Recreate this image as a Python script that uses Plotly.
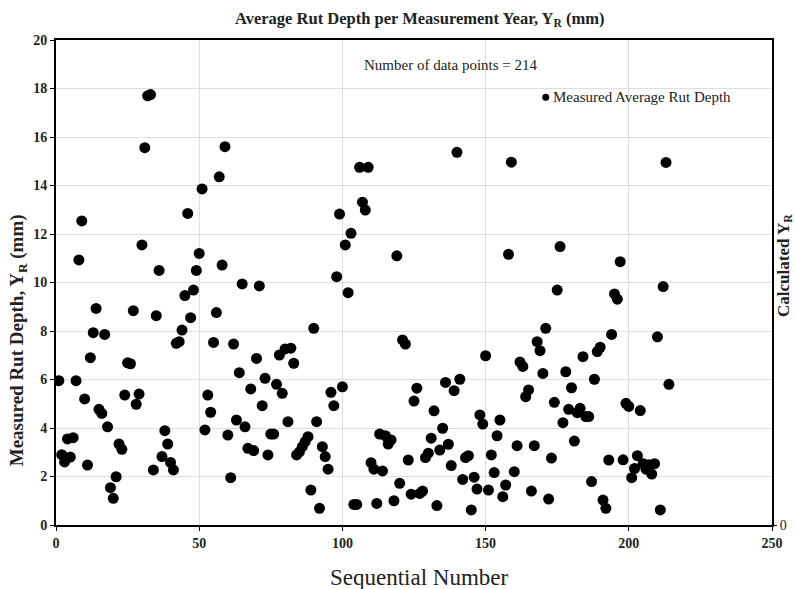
import plotly.graph_objects as go

seq_numbers = list(range(1, 215))
rut_depth = [
    5.95, 2.9, 2.6, 3.55, 2.8, 3.6, 5.95, 10.93, 12.54, 5.2,
    2.47, 6.9, 7.93, 8.93, 4.77, 4.6, 7.86, 4.05, 1.54, 1.1,
    1.99, 3.34, 3.12, 5.36, 6.69, 6.65, 8.84, 4.98, 5.4, 11.55,
    15.56, 17.7, 17.75, 2.27, 8.63, 10.5, 2.82, 3.89, 3.34, 2.58,
    2.27, 7.49, 7.56, 8.04, 9.46, 12.85, 8.55, 9.69, 10.5, 11.2,
    13.86, 3.92, 5.36, 4.65, 7.53, 8.76, 14.36, 10.72, 15.6, 3.71,
    1.95, 7.46, 4.33, 6.28, 9.94, 4.05, 3.16, 5.61, 3.07, 6.87,
    9.86, 4.92, 6.05, 2.89, 3.75, 3.75, 5.8, 7.01, 5.43, 7.26,
    4.26, 7.29, 6.67, 2.89, 3.02, 3.23, 3.44, 3.64, 1.44, 8.11,
    4.26, 0.69, 3.23, 2.82, 2.3, 5.47, 4.92, 10.24, 12.82, 5.7,
    11.55, 9.58, 12.03, 0.85, 0.85, 14.75, 13.31, 12.99, 14.75, 2.57,
    2.3, 0.89, 3.75, 2.23, 3.68, 3.34, 3.51, 1.0, 11.1, 1.72,
    7.63, 7.46, 2.68, 1.27, 5.11, 5.64, 1.3, 1.4, 2.78, 2.96,
    3.58, 4.71, 0.8, 3.09, 3.99, 5.88, 3.33, 2.45, 5.54, 15.37,
    6.01, 1.88, 2.78, 2.86, 0.62, 1.97, 1.48, 4.54, 4.16, 6.98,
    1.44, 2.89, 2.16, 3.68, 4.33, 1.17, 1.65, 11.16, 14.96, 2.2,
    3.27, 6.72, 6.54, 5.29, 5.57, 1.4, 3.27, 7.56, 7.19, 6.25,
    8.11, 1.07, 2.76, 5.06, 9.69, 11.48, 4.22, 6.32, 4.77, 5.66,
    3.46, 4.63, 4.81, 6.94, 4.47, 4.47, 1.79, 6.01, 7.15, 7.33,
    1.03, 0.69, 2.68, 7.86, 9.53, 9.31, 10.86, 2.69, 5.02, 4.89,
    1.95, 2.33, 2.86, 4.72, 2.53, 2.3, 2.48, 2.1, 2.53, 7.76,
    0.62, 9.83, 14.95, 5.8,
]
x_ticks = [0, 50, 100, 150, 200, 250]
y_ticks = [0, 2, 4, 6, 8, 10, 12, 14, 16, 18, 20]

SERIF = "Liberation Serif, Times New Roman, serif"
TXT = "#222"

fig = go.Figure()
fig.add_trace(go.Scatter(
    x=seq_numbers, y=rut_depth, mode="markers",
    marker=dict(color="black", size=11),
    name="Measured Average Rut Depth", showlegend=False,
))
# invisible trace for secondary (right) axis
fig.add_trace(go.Scatter(
    x=[None], y=[None], yaxis="y2", mode="markers", showlegend=False,
))

axis_common = dict(
    ticks="outside", ticklen=4, tickwidth=1, tickcolor="black",
    showline=True, linecolor="black", linewidth=2, mirror=True,
    showgrid=True, gridcolor="#dedede", gridwidth=1, zeroline=False,
    tickfont=dict(size=14, family=SERIF, color=TXT, weight="bold"),
    automargin=False,
)

fig.update_layout(
    width=795, height=589,
    margin=dict(l=56, r=23, t=40, b=64),
    paper_bgcolor="white", plot_bgcolor="white",
    font=dict(family=SERIF, color=TXT),
    title=dict(
        text="<b>Average Rut Depth per Measurement Year, Y<sub>R</sub> (mm)</b>",
        xref="container", yref="container",
        x=0.528, xanchor="center", y=0.969, yanchor="middle",
        font=dict(size=16.5, family=SERIF, color=TXT),
    ),
    xaxis=dict(range=[0, 250], tickvals=x_ticks, **axis_common),
    yaxis=dict(range=[0, 20], tickvals=y_ticks, **axis_common),
    yaxis2=dict(
        overlaying="y", side="right", range=[0, 20], tickvals=[0], ticktext=["0"],
        ticks="outside", ticklen=4, tickcolor="black",
        showgrid=False, zeroline=False, showline=False, automargin=False,
        tickfont=dict(size=14, family=SERIF, color=TXT),
    ),
    showlegend=False,
    shapes=[dict(
        type="circle", xref="paper", yref="paper",
        xsizemode="pixel", ysizemode="pixel",
        xanchor=0.684, yanchor=0.882,
        x0=-3.5, x1=3.5, y0=-3.5, y1=3.5,
        fillcolor="black", line=dict(width=0),
    )],
    annotations=[
        dict(text="Number of data points = 214", xref="paper", yref="paper",
             x=0.552, y=0.948, xanchor="center", yanchor="middle", showarrow=False,
             font=dict(size=15, family=SERIF, color=TXT)),
        dict(text="Measured Average Rut Depth", xref="paper", yref="paper",
             x=0.692, y=0.882, xanchor="left", yanchor="middle", showarrow=False,
             font=dict(size=15, family=SERIF, color=TXT)),
        dict(text="<b>Measured Rut Depth, Y<sub>R</sub> (mm)</b>", xref="paper", yref="paper",
             x=-0.053, y=0.381, xanchor="center", yanchor="middle", textangle=-90,
             showarrow=False, font=dict(size=19, family=SERIF, color=TXT)),
        dict(text="<b>Calculated Y<sub>R</sub></b>", xref="paper", yref="paper",
             x=1.018, y=0.536, xanchor="center", yanchor="middle", textangle=-90,
             showarrow=False, font=dict(size=17, family=SERIF, color=TXT)),
        dict(text="Sequential Number", xref="paper", yref="paper",
             x=0.507, y=-0.109, xanchor="center", yanchor="middle",
             showarrow=False, font=dict(size=23, family=SERIF, color=TXT)),
    ],
)

fig.write_html("out.html")
